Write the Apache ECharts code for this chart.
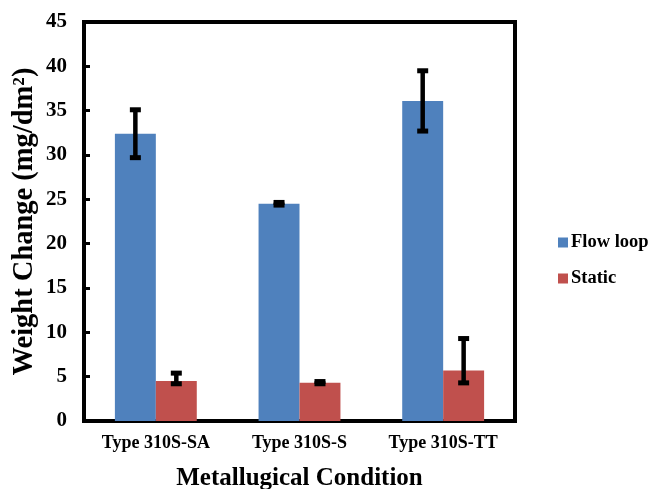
<!DOCTYPE html>
<html>
<head>
<meta charset="utf-8">
<script src="https://cdn.jsdelivr.net/npm/echarts@6/dist/echarts.min.js"></script>
<style>
  html, body { margin: 0; padding: 0; background: #fff; }
  #chart { width: 660px; height: 489px; }
</style>
</head>
<body>
<div id="chart"></div>
<script>
// Weight change by metallurgical condition
const categories = ['Type 310S-SA', 'Type 310S-S', 'Type 310S-TT'];
const seriesNames = ['Flow loop', 'Static'];

const flowLoop = [32.4, 24.5, 36.1];
const flowLoopLow = [29.7, 24.35, 32.7];
const flowLoopHigh = [35.1, 24.65, 39.5];

const staticVals = [4.5, 4.3, 5.7];
const staticLow = [4.2, 4.2, 4.3];
const staticHigh = [5.4, 4.45, 9.3];

const yTicks = [0, 5, 10, 15, 20, 25, 30, 35, 40, 45];

const FONT = "'Liberation Serif', 'Times New Roman', serif";
const BAR_FRACTION = 0.57; // share of a category taken by the two bars

function errorData(low, high) {
  return categories.map((c, i) => [i, low[i], high[i]]);
}

// Draws an I-shaped error bar centred on one bar of the group
function makeErrorRenderer(side) {
  return function (params, api) {
    const idx = api.value(0);
    const lowPt = api.coord([idx, api.value(1)]);
    const highPt = api.coord([idx, api.value(2)]);
    const catW = api.size([1, 0])[0];
    const offset = side * catW * BAR_FRACTION / 4;
    const x = lowPt[0] + offset;
    const capW = 11, capH = 5;
    const style = { fill: '#000' };
    return {
      type: 'group',
      children: [
        { type: 'line', shape: { x1: x, y1: highPt[1], x2: x, y2: lowPt[1] },
          style: { stroke: '#000', lineWidth: 4.5 } },
        { type: 'rect', shape: { x: x - capW / 2, y: highPt[1] - capH / 2, width: capW, height: capH }, style },
        { type: 'rect', shape: { x: x - capW / 2, y: lowPt[1] - capH / 2, width: capW, height: capH }, style }
      ]
    };
  };
}

const chart = echarts.init(document.getElementById('chart'), null, { renderer: 'canvas' });

chart.setOption({
  animation: false,
  backgroundColor: '#fff',
  grid: {
    left: 84, right: 145, top: 22, bottom: 68,
    outerBoundsMode: 'none',
    containLabel: false,
    show: true, borderColor: '#000', borderWidth: 4, backgroundColor: 'transparent'
  },
  legend: {
    orient: 'vertical',
    left: 553, top: 228,
    itemWidth: 10, itemHeight: 10, itemGap: 17,
    icon: 'rect',
    data: seriesNames,
    textStyle: { fontFamily: FONT, fontWeight: 'bold', fontSize: 18.5, color: '#000', padding: [0, 0, 0, -2] }
  },
  xAxis: {
    type: 'category',
    data: categories,
    axisLine: { show: false },
    axisTick: { show: false },
    axisLabel: { fontFamily: FONT, fontWeight: 'bold', fontSize: 18, color: '#000', margin: 13 },
    name: 'Metallugical Condition',
    nameLocation: 'middle',
    nameGap: 45,
    nameMoveOverlap: false,
    nameTextStyle: { fontFamily: FONT, fontWeight: 'bold', fontSize: 25, color: '#000' }
  },
  yAxis: {
    type: 'value',
    min: yTicks[0], max: yTicks[yTicks.length - 1], interval: 5,
    splitLine: { show: false },
    axisLine: { show: false },
    axisTick: { show: true, inside: true, length: 6, lineStyle: { color: '#000', width: 3 } },
    axisLabel: { fontFamily: FONT, fontWeight: 'bold', fontSize: 21, color: '#000', margin: 17 },
    name: 'Weight Change (mg/dm²)',
    nameLocation: 'middle',
    nameRotate: 90,
    nameGap: 45,
    nameMoveOverlap: false,
    nameTextStyle: { fontFamily: FONT, fontWeight: 'bold', fontSize: 28.5, color: '#000' }
  },
  series: [
    {
      name: seriesNames[0], type: 'bar', data: flowLoop,
      barGap: '0%', barCategoryGap: '43%',
      itemStyle: { color: '#4F81BD' }
    },
    {
      name: seriesNames[1], type: 'bar', data: staticVals,
      itemStyle: { color: '#C0504D' }
    },
    {
      type: 'custom', name: 'flowErr', data: errorData(flowLoopLow, flowLoopHigh),
      renderItem: makeErrorRenderer(-1), z: 5,
      encode: { x: 0, y: [1, 2] }
    },
    {
      type: 'custom', name: 'staticErr', data: errorData(staticLow, staticHigh),
      renderItem: makeErrorRenderer(1), z: 5,
      encode: { x: 0, y: [1, 2] }
    }
  ]
});
</script>
</body>
</html>
